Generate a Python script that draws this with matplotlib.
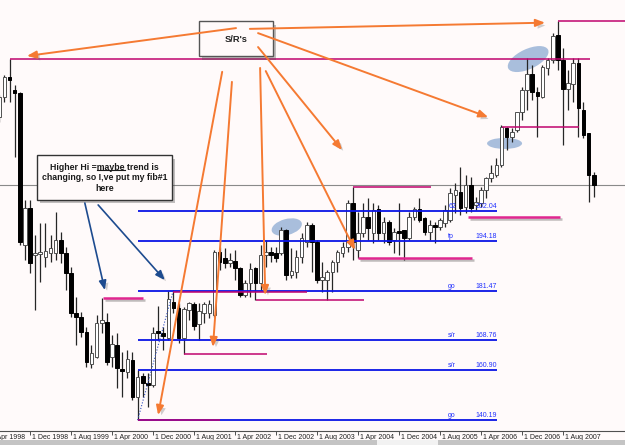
import numpy as np
import pandas as pd
import matplotlib
matplotlib.use('Agg')
import matplotlib.pyplot as plt
import matplotlib.patheffects as pe
from matplotlib import transforms
from matplotlib.patches import Rectangle, Ellipse
from matplotlib.lines import Line2D

# monthly bars, x = months from Dec 1998 (first bar Jun 1998)
bar_x = np.arange(-6, 111)

opens = [226.3, 231.5, 236.7, 233.3, 232.5, 193.2, 202.8, 190.7, 190.9, 190.2,
         191.2, 191.2, 194.6, 191.2, 186.0, 175.7, 174.7, 170.8, 162.5, 164.3,
         173.1, 173.4, 164.3, 167.4, 161.2, 160.4, 163.5, 154.0, 159.4, 157.6,
         157.1, 170.8, 170.5, 169.2, 178.5, 177.0, 169.2, 176.5, 178.0, 172.8,
         175.7, 175.7, 175.2, 191.4, 189.9, 188.6, 189.1, 187.3, 180.3, 183.4,
         187.3, 183.4, 190.7, 191.4, 191.2, 191.2, 197.1, 185.5, 186.3, 190.2,
         194.0, 198.4, 194.0, 184.2, 184.2, 186.3, 188.9, 191.2, 192.7, 204.1,
         192.0, 196.3, 200.5, 196.4, 202.6, 196.4, 199.2, 194.5, 196.6, 197.1,
         195.1, 200.5, 202.6, 200.2, 196.6, 198.4, 197.9, 198.9, 199.7, 206.2,
         206.9, 203.1, 208.8, 203.6, 204.1, 207.5, 210.6, 211.3, 213.9, 223.5,
         221.2, 223.0, 227.6, 233.3, 237.4, 232.8, 231.5, 239.0, 241.1, 247.5,
         241.1, 233.6, 234.9, 240.3, 228.1, 222.2, 211.3]
highs = [232.0, 237.2, 241.2, 234.6, 232.8, 204.9, 204.9, 195.8, 198.9, 198.9,
         195.8, 201.8, 196.6, 192.7, 187.6, 179.8, 175.9, 172.1, 167.4, 175.2,
         179.6, 175.7, 170.0, 170.5, 165.6, 166.1, 165.6, 160.9, 160.2, 160.2,
         172.1, 177.5, 172.1, 181.4, 181.6, 178.3, 177.2, 178.5, 178.5, 178.3,
         178.5, 179.0, 192.0, 192.7, 192.5, 191.2, 192.0, 187.6, 184.2, 188.6,
         187.6, 193.2, 194.6, 192.7, 192.7, 197.9, 197.4, 192.5, 192.0, 196.4,
         199.2, 198.9, 194.6, 188.9, 186.8, 189.4, 192.0, 194.0, 204.9, 208.2,
         201.8, 204.1, 205.4, 204.1, 203.6, 200.5, 199.7, 197.6, 204.1, 197.1,
         201.8, 203.1, 205.4, 200.5, 199.7, 199.2, 200.2, 203.6, 208.0, 209.3,
         213.4, 211.3, 210.8, 205.7, 208.2, 210.8, 213.9, 215.7, 224.3, 223.7,
         223.5, 227.6, 234.1, 241.6, 239.8, 234.1, 239.8, 241.6, 248.0, 251.2,
         244.2, 238.5, 241.6, 241.6, 230.2, 222.2, 212.1]
lows = [225.0, 230.2, 230.2, 216.0, 193.2, 189.4, 186.0, 176.5, 183.7, 187.6,
        188.9, 189.4, 188.6, 181.6, 174.7, 167.4, 169.5, 161.7, 161.5, 164.1,
        170.5, 162.2, 161.7, 156.3, 154.0, 158.9, 153.2, 148.0, 154.0, 151.4,
        156.6, 168.7, 166.1, 168.7, 175.7, 167.9, 165.1, 173.9, 171.3, 168.7,
        173.1, 174.4, 174.7, 186.8, 187.3, 187.6, 184.2, 179.8, 179.8, 179.8,
        179.0, 181.6, 187.6, 188.9, 188.9, 190.7, 184.2, 184.7, 184.7, 188.6,
        192.7, 186.3, 183.4, 181.1, 179.0, 181.1, 186.3, 190.2, 191.4, 189.4,
        189.9, 195.3, 194.6, 193.8, 194.6, 193.8, 193.2, 191.2, 190.7, 189.4,
        194.6, 199.7, 199.2, 195.8, 194.6, 193.8, 197.1, 197.9, 199.2, 201.5,
        201.0, 201.5, 201.8, 202.3, 203.1, 205.4, 209.5, 210.8, 213.4, 217.8,
        219.9, 222.5, 225.6, 228.1, 230.7, 221.2, 231.2, 237.2, 240.3, 238.5,
        219.1, 228.1, 230.2, 221.2, 220.9, 204.4, 205.7]
closes = [231.5, 236.7, 235.9, 232.5, 194.0, 202.8, 188.6, 191.2, 191.5, 191.7,
          192.5, 194.6, 191.2, 186.0, 175.7, 174.7, 170.8, 163.0, 165.3, 173.1,
          173.9, 163.0, 167.7, 161.5, 160.7, 163.8, 154.0, 159.1, 157.6, 157.1,
          170.5, 170.5, 169.7, 179.3, 177.0, 169.2, 176.7, 178.3, 172.3, 176.2,
          178.0, 178.0, 191.4, 188.9, 188.6, 189.4, 187.3, 180.3, 183.4, 187.0,
          183.4, 190.7, 191.4, 190.7, 189.9, 197.1, 185.5, 186.5, 190.2, 195.1,
          198.4, 194.0, 184.2, 185.0, 186.3, 188.9, 191.4, 192.7, 204.1, 194.0,
          196.3, 200.5, 197.6, 202.3, 196.4, 199.2, 194.0, 196.6, 196.4, 195.1,
          200.5, 202.6, 199.7, 196.6, 198.4, 197.9, 199.7, 202.3, 206.7, 207.5,
          202.8, 208.8, 202.8, 204.4, 207.5, 210.6, 211.9, 213.9, 223.7, 221.2,
          222.5, 227.6, 233.3, 237.4, 232.8, 231.7, 239.2, 241.1, 247.3, 241.1,
          233.6, 235.1, 240.3, 228.7, 221.7, 211.3, 208.8]

last_price = 208.76

# axis labels every 8 months
tick_pos = np.arange(-8, 112, 8)
tick_dates = pd.date_range('1998-04-01', periods=len(tick_pos), freq='8MS')
tick_labels = ['1 ' + d.strftime('%b %Y') for d in tick_dates]

# fibonacci levels
fib_prices = [202.04, 194.18, 181.47, 168.76, 160.90, 148.0]
fib_values = ['202.04', '194.18', '181.47', '168.76', '160.90', '140.19']
fib_names = ['62', 'tp', 'go', 's/r', 's/r', 'go']
fib_start, fib_end = 21, 91.1
fib_anchor = [(21, 148.0), (27.9, 181.2)]

# support / resistance lines: start, end, price
sr_start = [-4, 103, 63, 64, 14.2, 27.9, 44.1, 30, 21, 85.5, 92.1]
sr_end = [109.3, 118, 78.2, 86.2, 22, 54, 65.2, 46.2, 37, 103.4, 107.1]
sr_price = [241.2, 251.2, 208.2, 189.9, 179.6, 181.2, 179.0, 165.1, 148.0, 200.6, 223.8]
sr_pink = [False, False, False, True, True, False, False, False, False, True, False]

# annotation arrows (start -> end, in chart coordinates)
orange_arrows = [((40.2, 249.3), (-0.6, 242.1)),
                 ((42.9, 249.1), (100.5, 250.7)),
                 ((44.5, 248.0), (89.4, 226.3)),
                 ((44.5, 244.4), (60.9, 217.8)),
                 ((46.0, 238.2), (63.4, 192.0)),
                 ((44.9, 239.0), (45.9, 180.3)),
                 ((39.4, 235.4), (35.7, 166.9)),
                 ((37.5, 238.0), (25.0, 149.3))]
blue_arrows = [((10.7, 204.1), (14.6, 181.6)),
               ((13.3, 203.6), (26.3, 184.2))]

# highlight ellipses: centre, width/height (in), angle
ellipses = [((97.2, 241.3), 0.44, 0.20, 25),
            ((92.6, 219.5), 0.35, 0.11, 0),
            ((50.1, 197.9), 0.31, 0.16, 15)]

bg = '#fffafa'
fig = plt.figure(figsize=(6.25, 4.45), dpi=100, facecolor=bg)
ax = fig.add_axes([0, 14 / 445, 1, 431 / 445])
ax.set_facecolor(bg)
ax.set_xlim(-5.854, 116.1)
ax.set_ylim(145.19, 256.56)
for s in ['top', 'left', 'right']:
    ax.spines[s].set_visible(False)
ax.spines['bottom'].set_color('#505050')
ax.spines['bottom'].set_linewidth(0.8)
ax.set_yticks([])
ax.set_xticks(tick_pos[tick_pos > -5.8])
ax.set_xticklabels([])
ax.tick_params(axis='x', length=3, width=0.7, color='#505050', direction='out')

small_font = ['Liberation Sans Narrow', 'Liberation Sans']
for p, lab in zip(tick_pos, tick_labels):
    ax.annotate(lab, xy=(p, 0), xycoords=('data', 'axes fraction'),
                xytext=(1.2, -2.2), textcoords='offset points', ha='left', va='top',
                fontsize=5, family=small_font, color='#202020', annotation_clip=False)

# current price line
ax.axhline(last_price, color='#8a8a8a', lw=0.8, zorder=1)

# ellipses behind the candles
for (cx, cy), w, h, ang in ellipses:
    tr = fig.dpi_scale_trans + transforms.ScaledTranslation(cx, cy, ax.transData)
    ax.add_patch(Ellipse((0, 0), w, h, angle=ang, transform=tr,
                         facecolor='#a9bedc', edgecolor='none', zorder=2))

# candles
o = np.array(opens)
c = np.array(closes)
up = c >= o
ax.vlines(bar_x, lows, highs, color='#262626', lw=0.9, zorder=3)
body_lo = np.minimum(o, c)
body_h = np.maximum(np.abs(c - o), 0.45)
ax.bar(bar_x, body_h, bottom=body_lo, width=0.7,
       color=np.where(up, 'white', 'black'),
       edgecolor=np.where(up, '#505050', 'black'), lw=0.7, zorder=4)

# fib levels
for lvl, val, name in zip(fib_prices, fib_values, fib_names):
    ax.hlines(lvl, fib_start, fib_end, color='#0a14e6', lw=1.3, zorder=5)
    ax.text(81.6, lvl + 0.25, name, fontsize=5, family=small_font,
            color='#2030ff', ha='left', va='bottom', zorder=6)
    ax.text(fib_end, lvl + 0.25, val, fontsize=5, family=small_font,
            color='#2030ff', ha='right', va='bottom', zorder=6)
ax.plot([p[0] for p in fib_anchor], [p[1] for p in fib_anchor],
        color='#3050c0', lw=0.8, ls=(0, (1, 1.6)), zorder=5)

# S/R lines
for x0, x1, pr, pink in zip(sr_start, sr_end, sr_price, sr_pink):
    if pink:
        ax.hlines(pr, x0, x1, color='#e0268f', lw=1.8, zorder=6,
                  path_effects=[pe.SimpleLineShadow(offset=(1.5, -1.5), alpha=0.25),
                                pe.Normal()])
    else:
        ax.hlines(pr, x0, x1, color='#c0046e', lw=1.1, zorder=6)

# text boxes
shadow = [pe.SimplePatchShadow(offset=(2.5, -2.5), alpha=0.35), pe.Normal()]
ax.add_patch(Rectangle((0.318, 0.870), 0.118, 0.081, transform=ax.transAxes,
                       facecolor=bg, edgecolor='#555555', lw=1.0, zorder=7,
                       path_effects=shadow))
ax.text(0.378, 0.909, "S/R's", transform=ax.transAxes, ha='center', va='center',
        fontsize=6.7, fontweight='bold', family='Liberation Sans', color='#222222', zorder=8)

ax.add_patch(Rectangle((0.059, 0.536), 0.216, 0.104, transform=ax.transAxes,
                       facecolor=bg, edgecolor='#333333', lw=1.0, zorder=7,
                       path_effects=shadow))
box_lines = ['Higher Hi =maybe trend is', 'changing, so I,ve put my fib#1', 'here']
box_y = [0.6125, 0.588, 0.563]
txt_kw = dict(fontsize=6.3, fontweight='bold', family='Liberation Sans', color='#1a1a1a')
first = None
for line, yy in zip(box_lines, box_y):
    t = ax.text(0.167, yy, line, transform=ax.transAxes, ha='center', va='center',
                zorder=8, **txt_kw)
    if first is None:
        first = t

# underline "maybe"
fig.canvas.draw()
rend = fig.canvas.get_renderer()
bb = first.get_window_extent(rend)
tmp = fig.text(0, 0, 'Higher Hi =', **txt_kw)
w_pre = tmp.get_window_extent(rend).width
tmp.set_text('maybe')
w_word = tmp.get_window_extent(rend).width
tmp.remove()
ux0 = bb.x0 + w_pre + 0.5
fig.add_artist(Line2D([ux0, ux0 + w_word], [bb.y0 + 1.2, bb.y0 + 1.2],
                      transform=transforms.IdentityTransform(), color='#1a1a1a', lw=0.8,
                      zorder=9))

# arrows
for (s, e) in orange_arrows:
    an = ax.annotate('', xy=e, xytext=s, annotation_clip=False, zorder=9,
                     arrowprops=dict(arrowstyle='-|>,head_length=0.55,head_width=0.22',
                                     color='#f57a32', lw=1.4, shrinkA=0, shrinkB=0))
    an.arrow_patch.set_path_effects([pe.SimplePatchShadow(offset=(2, -2), alpha=0.3,
                                                          shadow_rgbFace='0.4'), pe.Normal()])
for (s, e) in blue_arrows:
    an = ax.annotate('', xy=e, xytext=s, annotation_clip=False, zorder=9,
                     arrowprops=dict(arrowstyle='-|>,head_length=0.55,head_width=0.22',
                                     color='#1d4b8f', lw=1.2, shrinkA=0, shrinkB=0))
    an.arrow_patch.set_path_effects([pe.SimplePatchShadow(offset=(2, -2), alpha=0.3,
                                                          shadow_rgbFace='0.4'), pe.Normal()])

# scrollbar strip at the bottom
fig.add_artist(Rectangle((0, 0), 1, 5 / 445, transform=fig.transFigure,
                         facecolor='#c4c4c4', edgecolor='none'))
fig.add_artist(Rectangle((377 / 625, 0), 61 / 625, 5 / 445, transform=fig.transFigure,
                         facecolor='#f2f2f2', edgecolor='none'))

fig.savefig('out.png', dpi=100, facecolor=bg)
